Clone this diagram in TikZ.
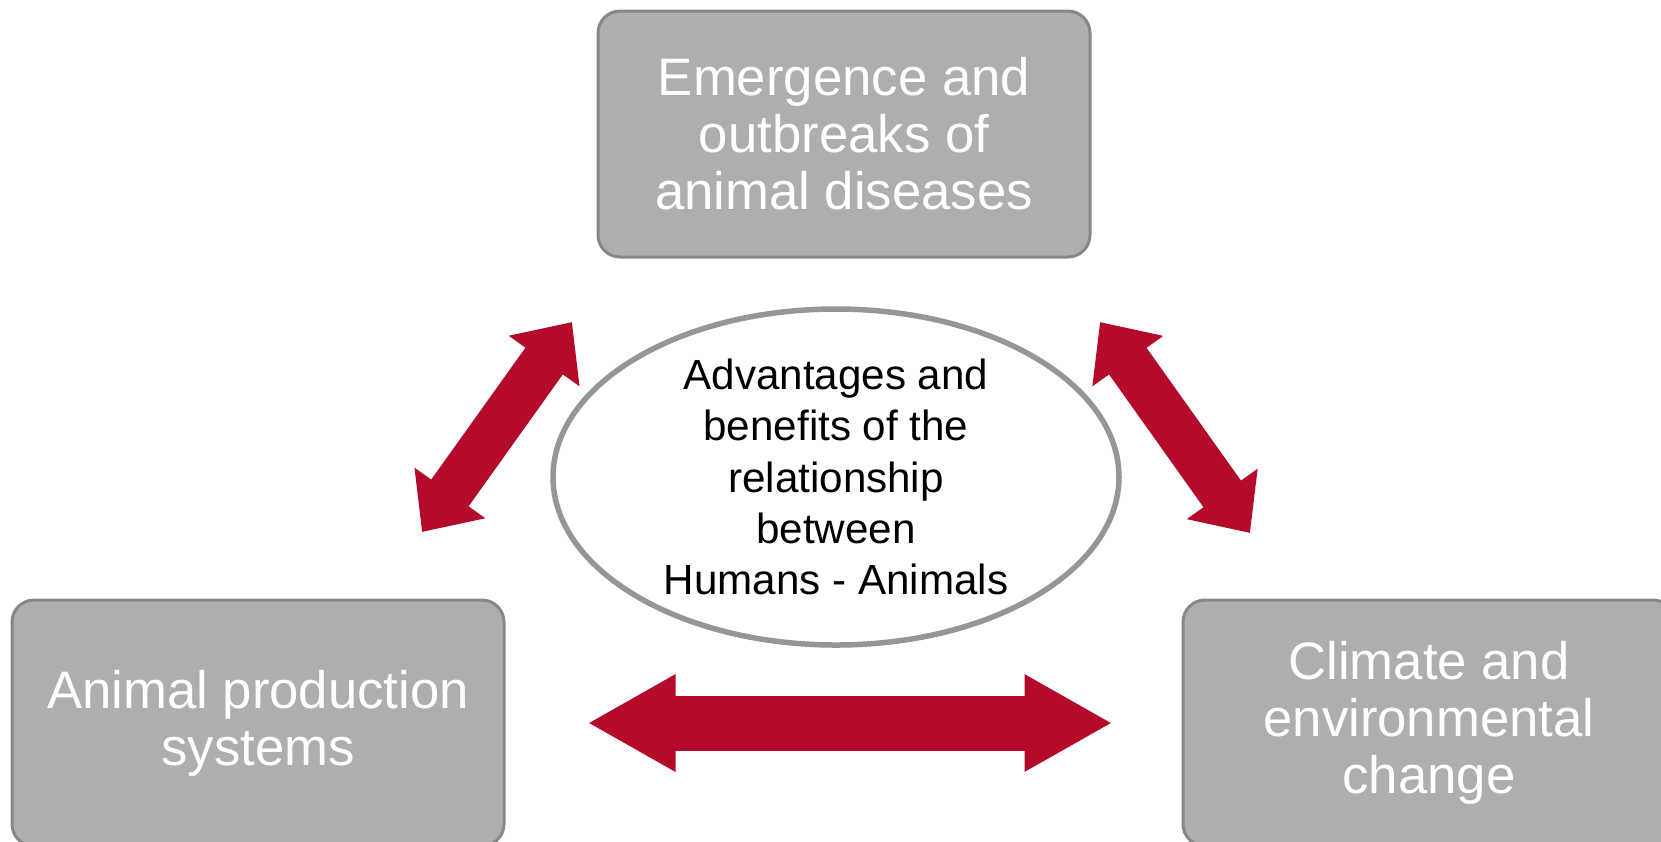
\documentclass[tikz,border=0pt]{standalone}
\usepackage{fontspec}
\setmainfont{Liberation Sans}
\usepackage{xcolor}
\usetikzlibrary{arrows.meta, positioning, calc, shapes.geometric}
\definecolor{boxgray}{RGB}{174,174,174}
\definecolor{boxedge}{RGB}{135,135,135}
\definecolor{arrowred}{RGB}{180,10,44}
\definecolor{ringgray}{RGB}{150,150,150}

\begin{document}
\begin{tikzpicture}[x=0.1mm,y=-0.1mm,
  topic/.style={draw=boxedge, line width=0.3mm, fill=boxgray, rounded corners=2.2mm,
    minimum width=49.2mm, minimum height=24.6mm, inner sep=0pt,
    text=white, align=center, font=\fontsize{15}{16.2}\selectfont},
  core/.style={ellipse, draw=ringgray, line width=0.55mm, fill=white,
    minimum width=56.6mm, minimum height=33.6mm, inner sep=0pt,
    align=center, font=\fontsize{12}{14.6}\selectfont},
  link/.style={draw=arrowred, line width=5.5mm,
    {Triangle[length=8.8mm,width=9.1mm]}-{Triangle[length=8.8mm,width=9.1mm]}},
  slant/.style={draw=arrowred, line width=4.6mm,
    {Triangle[length=4.8mm,width=8.4mm]}-{Triangle[length=4.8mm,width=8.4mm]}}]
  \useasboundingbox (0,0) rectangle (1661,841);
  \clip (0,0) rectangle (1661,841);

  \node[topic] (disease) at (844,134) {Emergence and\\outbreaks of\\animal diseases};
  \node[topic] (prod) at (258,723) {Animal production\\systems};
  \node[topic] (climate) at (1429,723) {Climate and\\environmental\\change};
  \node[core] (benefit) at (836,477) {Advantages and\\benefits of the\\relationship\\between\\Humans - Animals};

  \coordinate (pl) at (422,532);
  \coordinate (pr) at (572,322);
  \coordinate (cl) at (1100,322);
  \coordinate (cr) at (1250,533);

  \draw[slant] (pl) -- (pr);
  \draw[slant] (cl) -- (cr);
  \draw[link, shorten <=8.2mm, shorten >=6.9mm] (prod.east) -- (climate.west);
\end{tikzpicture}
\end{document}
